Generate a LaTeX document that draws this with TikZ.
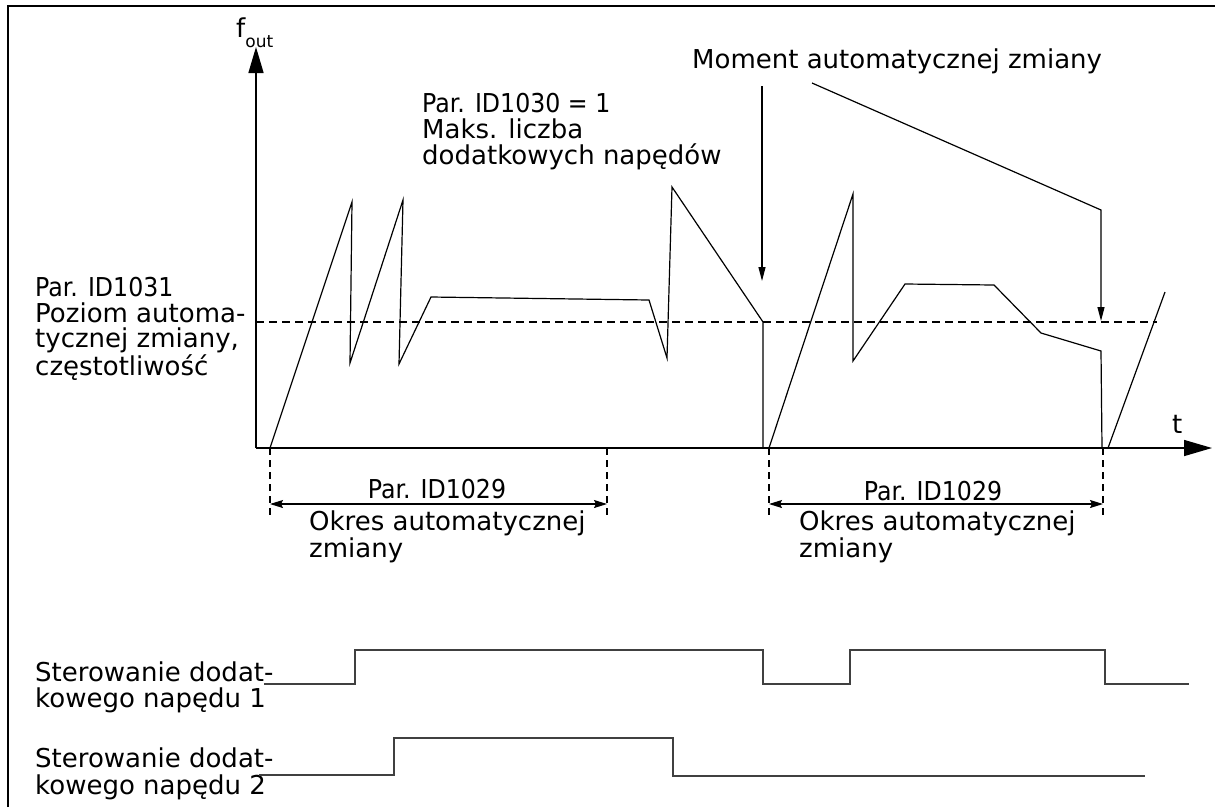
\documentclass[tikz,border=0pt]{standalone}
\usepackage{fontspec}
\setmainfont{DejaVu Sans}
\newfontfamily\parfont[FakeStretch=0.91]{DejaVu Sans}
\usetikzlibrary{arrows.meta}
\begin{document}
\begin{tikzpicture}[x=1pt,y=-1pt,
  lbl/.style={inner sep=0pt, font=\fontsize{26}{26}\selectfont, align=left, anchor=base west},
  clbl/.style={inner sep=0pt, font=\fontsize{26}{26}\selectfont, anchor=base},
  frameline/.style={line width=1.5pt},
  axisline/.style={line width=1.5pt},
  wave/.style={line width=1.2pt, line join=miter},
  levelline/.style={line width=1.2pt, dash pattern=on 8pt off 5pt},
  markline/.style={line width=1.1pt, dash pattern=on 7pt off 5pt},
  dimarrow/.style={line width=1.2pt, {Stealth[length=13pt,width=8pt,inset=2pt]}-{Stealth[length=13pt,width=8pt,inset=2pt]}},
  pointer/.style={line width=1.2pt, -{Triangle[length=14pt,width=7pt]}},
  signal/.style={line width=1.6pt, black!75, line join=miter}
]
\useasboundingbox (0,0) rectangle (1215,807);
% frame
\coordinate (fbl) at (8,807);
\coordinate (ftl) at (8,6);
\coordinate (ftr) at (1215,6);
\draw[frameline] (fbl) -- (ftl) -- (ftr);

% axes
\coordinate (O) at (256,448);
\coordinate (ytop) at (256,47);
\coordinate (xend) at (1212,448);
\draw[axisline,-{Triangle[length=26pt,width=15pt]}] (O) -- (ytop);
\draw[axisline,-{Triangle[length=28pt,width=16pt]}] (O) -- (xend);
\node[lbl] (fout) at (236,37) {f\raisebox{-10pt}{\fontsize{17}{17}\selectfont out}};
\node[lbl] (tlab) at (1172,433) {t};

% level line
\coordinate (lvlA) at (256,322);
\coordinate (lvlB) at (1157,322);
\draw[levelline] (lvlA) -- (lvlB);

% waveform
\draw[wave] (270,448) -- (352,202) -- (350,363) -- (403,200) -- (399,364) -- (431,297)
  -- (649,300) -- (667,358) -- (672,187) -- (763,322) -- (763,448);
\draw[wave] (769,448) -- (853,194) -- (853,361) -- (905,284) -- (994,285)
  -- (1041,333) -- (1101,351) -- (1102,448);
\draw[wave] (1108,448) -- (1165,292);

% period markers
\foreach \n/\x in {a/270,b/607,c/769,d/1103}{
  \coordinate (mk\n t) at (\x,448);
  \coordinate (mk\n b) at (\x,518);
  \draw[markline] (mk\n t) -- (mk\n b);
}
\coordinate (dA1) at (270,504);
\coordinate (dA2) at (607,504);
\coordinate (dB1) at (769,504);
\coordinate (dB2) at (1103,504);
\draw[dimarrow] (dA1) -- (dA2);
\draw[dimarrow] (dB1) -- (dB2);
\node[clbl] (per1) at (437,498) {\parfont Par. ID1029};
\node[clbl] (per2) at (933,500) {\parfont Par. ID1029};
% multi-line nodes: base anchor sits on the last line
\node[lbl, font=\fontsize{26}{27}\selectfont] (okr1) at (309,557) {Okres automatycznej\\zmiany};
\node[lbl, font=\fontsize{26}{27}\selectfont] (okr2) at (799,557) {Okres automatycznej\\zmiany};

% left label
\node[lbl, font=\fontsize{26}{25.5}\selectfont] (lev) at (35,375)
  {{\parfont Par. ID1031}\\Poziom automa-\\tycznej zmiany,\\częstotliwość};

% top labels
\node[lbl] (maxd) at (422,164) {{\parfont Par. ID1030 = 1}\\Maks. liczba\\dodatkowych napędów};
\node[lbl] (mom) at (692,68) {Moment automatycznej zmiany};
\coordinate (m1s) at (762,86);
\coordinate (m1e) at (762,281);
\draw[pointer] (m1s) -- (m1e);
\coordinate (m2s) at (812,83);
\coordinate (m2c) at (1101,210);
\coordinate (m2e) at (1101,321);
\draw[pointer] (m2s) -- (m2c) -- (m2e);

% control signals
\node[lbl] (s1lab) at (35,707) {Sterowanie dodat-\\kowego napędu 1};
\node[lbl, font=\fontsize{26}{27}\selectfont] (s2lab) at (35,794) {Sterowanie dodat-\\kowego napędu 2};
\draw[signal] (264,684) -- (355,684) -- (355,650) -- (763,650) -- (763,684) -- (850,684)
  -- (850,650) -- (1105,650) -- (1105,684) -- (1189,684);
\draw[signal] (259,775) -- (394,775) -- (394,738) -- (673,738) -- (673,776) -- (1145,776);
\end{tikzpicture}
\end{document}
